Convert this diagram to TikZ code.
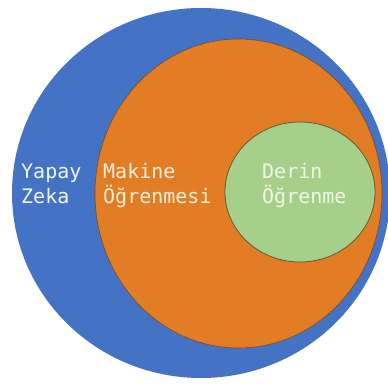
\documentclass[tikz,border=0pt]{standalone}
\usepackage{fontspec}
\newfontfamily\labelfont{DejaVu Sans Mono}
\definecolor{aiblue}{HTML}{4472C4}
\definecolor{mlorange}{HTML}{E27D26}
\definecolor{dlgreen}{HTML}{A6D08A}
\definecolor{mledge}{HTML}{7A4A20}
\definecolor{dledge}{HTML}{5C5A3A}
\definecolor{labelcream}{HTML}{F6EFD9}
\definecolor{labelpale}{HTML}{F1F6E6}
\tikzset{
  setlabel/.style={anchor=base west, inner sep=0pt, align=left,
    font=\labelfont\fontsize{20}{25}\selectfont}
}
\begin{document}
\begin{tikzpicture}[x=1pt,y=1pt]
  \useasboundingbox (0,0) rectangle (388,385);
  \fill[white] (0,0) rectangle (388,385);
  % nested sets
  \fill[aiblue] (201,192) ellipse [x radius=189, y radius=185];
  \filldraw[fill=mlorange, draw=mledge, line width=0.6pt] (238.5,191.5) ellipse [x radius=143.5, y radius=154.5];
  \filldraw[fill=dlgreen, draw=dledge, line width=0.8pt] (300,193) ellipse [x radius=75, y radius=70];
  % labels (base anchor sits on the last line)
  \node[setlabel, text=labelpale] (ai) at (21,181) {Yapay\\Zeka};
  \node[setlabel, text=labelcream] (ml) at (103,181) {Makine\\Öğrenmesi};
  \node[setlabel, text=labelpale] (dl) at (262,181) {Derin\\Öğrenme};
\end{tikzpicture}
\end{document}
